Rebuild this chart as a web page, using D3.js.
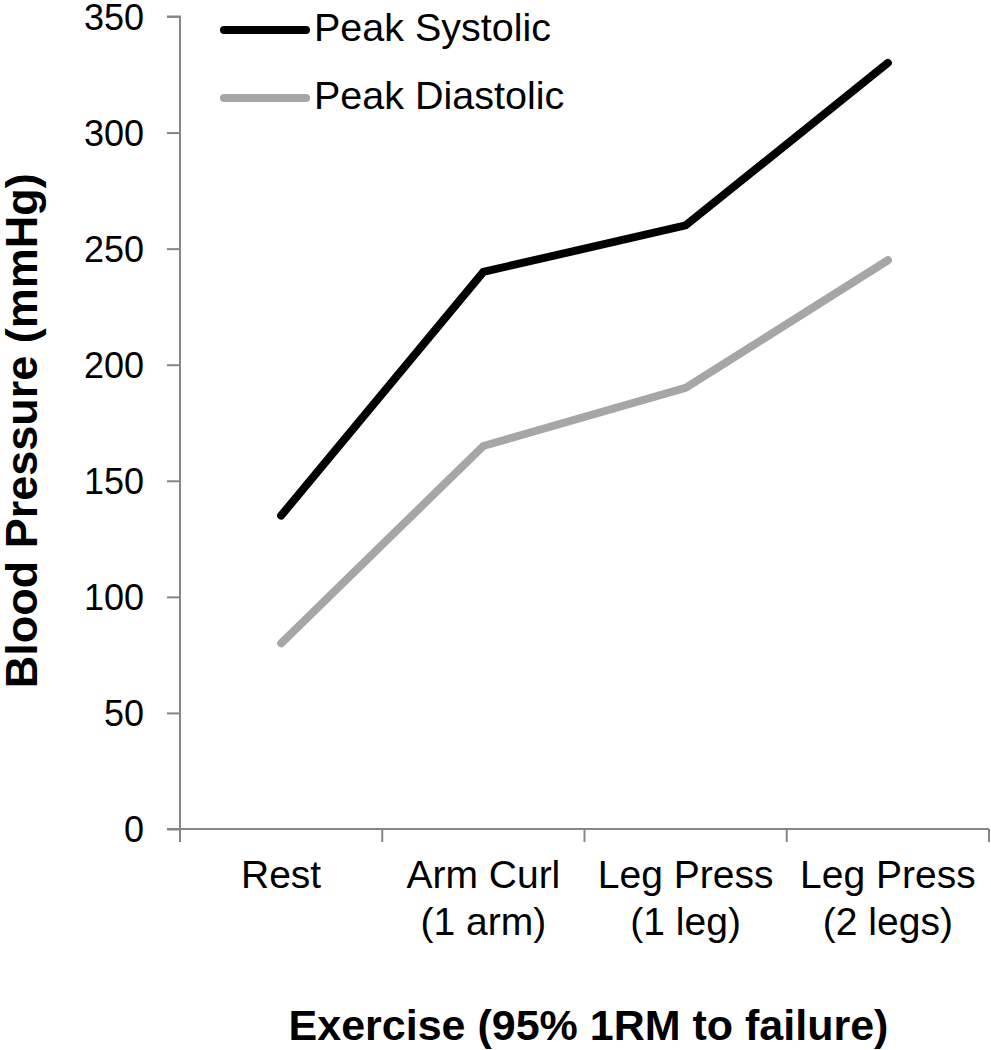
<!DOCTYPE html>
<html>
<head>
<meta charset="utf-8">
<script src="https://cdn.jsdelivr.net/npm/d3@7"></script>
<style>
  html, body { margin: 0; padding: 0; background: #fff; }
  svg { display: block; font-family: "Liberation Sans", Arial, sans-serif; }
</style>
</head>
<body>
<svg id="chart" width="991" height="1050"></svg>
<script>
const categories = [["Rest"], ["Arm Curl", "(1 arm)"], ["Leg Press", "(1 leg)"], ["Leg Press", "(2 legs)"]];
const systolic = [135, 240, 260, 330];
const diastolic = [80, 165, 190, 245];
const yTicks = [0, 50, 100, 150, 200, 250, 300, 350];
const seriesNames = ["Peak Systolic", "Peak Diastolic"];
const seriesColors = ["#000000", "#a6a6a6"];

const svg = d3.select("#chart");
const plotLeft = 180, plotRight = 989, plotTop = 16.5, plotBottom = 829;

const x = d3.scaleBand().domain(d3.range(categories.length)).range([plotLeft, plotRight]).padding(0);
const y = d3.scaleLinear().domain([0, 350]).range([plotBottom, plotTop]);
const axisColor = "#868686";

// Y axis
const yAxis = svg.append("g").attr("transform", `translate(${plotLeft},0)`)
  .call(d3.axisLeft(y).tickValues(yTicks).tickSize(13).tickPadding(0).tickFormat(d3.format("d")));
yAxis.select(".domain").attr("stroke", axisColor).attr("stroke-width", 2).attr("d", `M-13,${plotTop}H0V${plotBottom}`);
yAxis.selectAll(".tick line").attr("stroke", axisColor).attr("stroke-width", 2);
yAxis.selectAll(".tick text").attr("x", -36).attr("dy", "0.35em")
  .attr("font-size", 36).attr("fill", "#000").attr("font-family", "Liberation Sans, Arial, sans-serif");

// X axis line with ticks at band boundaries
const xAxisG = svg.append("g").attr("transform", `translate(0,${plotBottom})`);
xAxisG.append("line").attr("x1", plotLeft - 13).attr("x2", plotRight).attr("y1", 0).attr("y2", 0)
  .attr("stroke", axisColor).attr("stroke-width", 2);
const boundaries = d3.range(categories.length + 1).map(i => i < categories.length ? x(i) : x(i - 1) + x.bandwidth());
xAxisG.selectAll("line.xt").data(boundaries).join("line").attr("class", "xt")
  .attr("x1", d => d).attr("x2", d => d).attr("y1", 0).attr("y2", 13)
  .attr("stroke", axisColor).attr("stroke-width", 2);

// Category labels
const catG = svg.append("g");
categories.forEach((lines, i) => {
  const t = catG.append("text").attr("text-anchor", "middle").attr("font-size", 39).attr("fill", "#000");
  lines.forEach((ln, j) => {
    t.append("tspan").attr("x", x(i) + x.bandwidth() / 2).attr("y", 888 + j * 47).text(ln);
  });
});

// Lines
const line = d3.line().x((d, i) => x(i) + x.bandwidth() / 2).y(d => y(d));
[diastolic, systolic].forEach((s, k) => {
  svg.append("path").datum(s).attr("d", line).attr("fill", "none")
    .attr("stroke", k === 0 ? seriesColors[1] : seriesColors[0])
    .attr("stroke-width", 8).attr("stroke-linecap", "round").attr("stroke-linejoin", "miter");
});

// Legend
const legendY = [30, 98];
seriesNames.forEach((name, i) => {
  svg.append("line").attr("x1", 224).attr("x2", 306).attr("y1", legendY[i]).attr("y2", legendY[i])
    .attr("stroke", seriesColors[i]).attr("stroke-width", 8).attr("stroke-linecap", "round");
  svg.append("text").attr("x", 314).attr("y", legendY[i] + 11).attr("font-size", 39.5).attr("fill", "#000").text(name);
});

// Axis titles
svg.append("text").attr("x", (plotLeft + plotRight) / 2 + 4).attr("y", 1040).attr("text-anchor", "middle")
  .attr("font-size", 43).attr("font-weight", "bold").attr("fill", "#000").text("Exercise (95% 1RM to failure)");
svg.append("text").attr("transform", `translate(37,${(plotTop + plotBottom) / 2 + 8}) rotate(-90)`).attr("text-anchor", "middle")
  .attr("font-size", 45).attr("font-weight", "bold").attr("fill", "#000").text("Blood Pressure (mmHg)");
</script>
</body>
</html>
